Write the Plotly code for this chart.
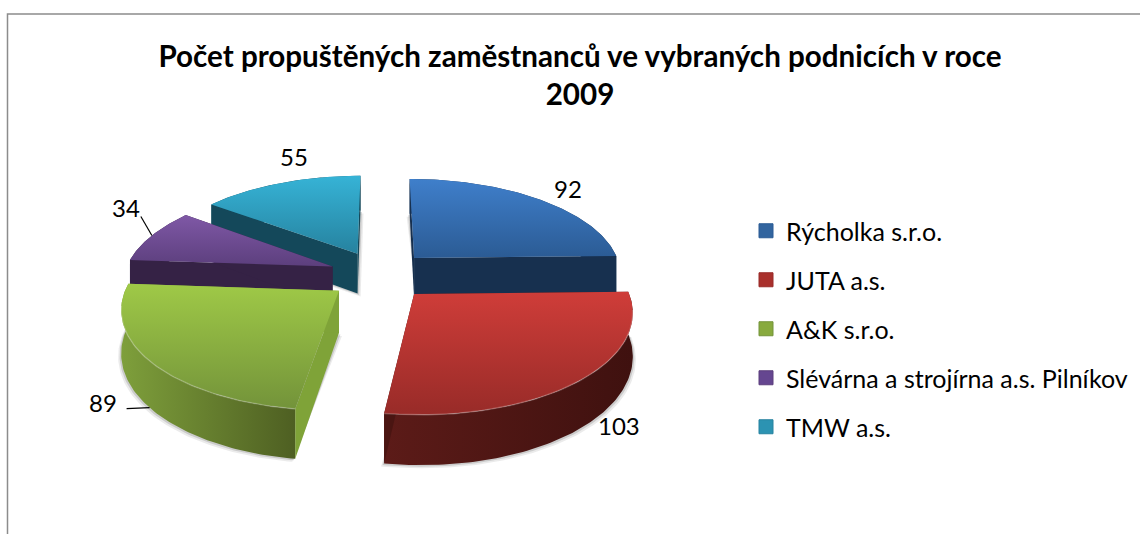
import numpy as np
import plotly.graph_objects as go

categories = ["Rýcholka s.r.o.", "JUTA a.s.", "A&K s.r.o.", "Slévárna a strojírna a.s. Pilníkov", "TMW a.s."]
values = [92, 103, 89, 34, 55]

top_start = ["#3f7fcb", "#cf3d39", "#9fc947", "#7f58a6", "#36b3d6"]
top_end = ["#2b5b94", "#982b28", "#73933a", "#5c3f7d", "#26829f"]
wall = ["#17304f", "#4a1512", "#7fa338", "#352245", "#14485a"]
side_l = ["#1c3a60", "#5c1b18", "#7e9f3b", "#3f2a52", "#185668"]
side_r = ["#17304f", "#3f110f", "#4e5f22", "#352245", "#14485a"]
legend_col = ["#32659f", "#a9302c", "#88aa3e", "#654690", "#2c93b2"]

# projection of the pie plane onto the chart area (pixel-like hidden axes)
R, T, D, H, CX, HY = 203.0, 40.0, 1362.0, 609.0, 380.0, -351.0
PIE_X, PIE_Y, EXPLODE_X, EXPLODE_Y = -0.5, -37.0, 49.4, 52.0
PAINT_ORDER = [4, 0, 3, 2, 1]
FONT = "Lato"


def proj(px, py, drop=0.0):
    s = D / (D + py)
    return CX + px * s, HY + H * s + drop * s


total = sum(values)
edges = np.concatenate([[0.0], np.cumsum(values)]) / total * 2 * np.pi


def rim(i, n=90):
    return np.linspace(edges[i], edges[i + 1], n)


def apex(i):
    mid = (edges[i] + edges[i + 1]) / 2
    return PIE_X + EXPLODE_X * np.sin(mid), PIE_Y + EXPLODE_Y * np.cos(mid)


def rim_pts(i, th, drop=0.0):
    ax, ay = apex(i)
    return proj(ax + R * np.sin(th), ay + R * np.cos(th), drop)


def poly(x, y, **kw):
    return go.Scatter(x=list(x), y=list(y), mode="lines", fill="toself",
                      line=dict(width=0), hoverinfo="skip", showlegend=False, **kw)


fig = go.Figure()
for i in PAINT_ORDER:
    th = rim(i)
    ax, ay = apex(i)
    a_x, a_y = proj(ax, ay)
    b_x, b_y = proj(ax, ay, T)
    tx, ty = rim_pts(i, th)
    bx, by = rim_pts(i, th, T)
    # soft shadow
    for off, op in ((3, 0.10), (1.5, 0.18)):
        fig.add_trace(poly(np.r_[b_x + off, bx + off * np.sign(bx - b_x + 1e-6)],
                           np.r_[b_y + off, by + off],
                           fillcolor=f"rgba(60,60,60,{op})"))
    # outer wall
    fig.add_trace(go.Scatter(
        x=np.r_[tx, bx[::-1]].tolist(), y=np.r_[ty, by[::-1]].tolist(),
        mode="lines", fill="toself", line=dict(width=0), hoverinfo="skip", showlegend=False,
        fillgradient=dict(type="horizontal", colorscale=[[0, side_l[i]], [1, side_r[i]]])))
    # radial walls
    for k in (0, -1):
        fig.add_trace(poly([a_x, tx[k], bx[k], b_x], [a_y, ty[k], by[k], b_y], fillcolor=wall[i]))
    # top face
    fig.add_trace(go.Scatter(
        x=np.r_[a_x, tx, a_x].tolist(), y=np.r_[a_y, ty, a_y].tolist(),
        mode="lines", fill="toself", line=dict(width=0), hoverinfo="skip", showlegend=False,
        fillgradient=dict(type="vertical", colorscale=[[0, top_end[i]], [1, top_start[i]]])))
    # bevel highlight along the front rim
    if np.any(ty > a_y + 20):
        mask = ty > a_y + 15
        fig.add_trace(go.Scatter(x=tx[mask].tolist(), y=ty[mask].tolist(), mode="lines",
                                 line=dict(width=1.5, color="rgba(255,255,255,0.22)"),
                                 hoverinfo="skip", showlegend=False))

# legend entries
for i, name in enumerate(categories):
    fig.add_trace(go.Scatter(x=[None], y=[None], mode="markers", name=name, legendgroup=name,
                             marker=dict(symbol="square", size=14, color=legend_col[i],
                                         line=dict(width=1, color=top_end[i]))))

# data labels: offset from the rim point at each slice's mid angle
label_offset = [(29, -11), (39, 45), (-47, -5), (-26, -28), (13, -27)]
leader_drop = [0, 0, T, 0, 0]
leader_offset = [None, None, (-23, 1), (-11, -19), None]
for i, v in enumerate(values):
    mid = (edges[i] + edges[i + 1]) / 2
    rx, ry = rim_pts(i, mid, leader_drop[i])
    dx, dy = label_offset[i]
    if leader_offset[i]:
        lx, ly = leader_offset[i]
        fig.add_trace(go.Scatter(x=[float(rx) + lx, float(rx)], y=[float(ry) + ly, float(ry)],
                                 mode="lines", line=dict(width=1.2, color="#000000"),
                                 hoverinfo="skip", showlegend=False))
    fig.add_annotation(x=float(rx), y=float(ry), xref="x", yref="y", text=str(v),
                       showarrow=False, xshift=dx, yshift=-dy,
                       font=dict(family=FONT, size=24, color="#000000"))

fig.update_layout(
    width=1140, height=534, margin=dict(l=0, r=0, t=0, b=0),
    paper_bgcolor="white", plot_bgcolor="white",
    xaxis=dict(range=[0, 1140], visible=False, fixedrange=True),
    yaxis=dict(range=[534, 0], visible=False, fixedrange=True),
    title=dict(text="<b>Počet propuštěných zaměstnanců ve vybraných podnicích v roce<br>2009</b>",
               x=580 / 1140, xanchor="center", y=1 - 67 / 534, yanchor="middle",
               font=dict(family=FONT, size=29.6, color="#000000")),
    legend=dict(x=746 / 1140, y=1 - 208 / 534, xanchor="left", yanchor="top",
                font=dict(family=FONT, size=25, color="#000000"),
                tracegroupgap=13.5, itemsizing="trace", bgcolor="rgba(0,0,0,0)"),
    shapes=[dict(type="rect", xref="paper", yref="paper", x0=7.5 / 1140, x1=1.05,
                 y0=-0.1, y1=1 - 14 / 534, line=dict(color="#8c8c8c", width=1.5))],
)
fig.write_html("out.html", config={"displayModeBar": False},
               post_script="document.body.style.margin='0';document.documentElement.style.overflow='hidden';")
